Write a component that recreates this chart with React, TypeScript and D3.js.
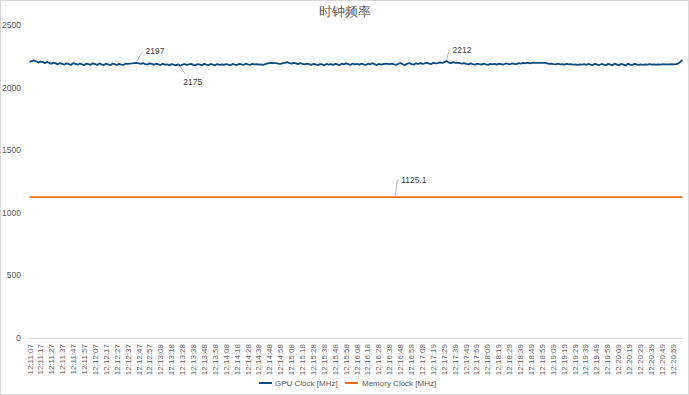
import React from "react";
import * as d3 from "d3";

const title = "时钟频率";
const yTicks = [0, 500, 1000, 1500, 2000, 2500];
const timeLabels = [
  "12:11:07","12:11:17","12:11:27","12:11:37","12:11:47","12:11:57",
  "12:12:07","12:12:17","12:12:27","12:12:37","12:12:47","12:12:57",
  "12:13:08","12:13:18","12:13:28","12:13:38","12:13:48","12:13:58",
  "12:14:08","12:14:18","12:14:28","12:14:38","12:14:48","12:14:58",
  "12:15:08","12:15:18","12:15:28","12:15:38","12:15:48","12:15:58",
  "12:16:08","12:16:18","12:16:28","12:16:38","12:16:48","12:16:58",
  "12:17:08","12:17:19","12:17:29","12:17:39","12:17:49","12:17:59",
  "12:18:09","12:18:19","12:18:29","12:18:39","12:18:49","12:18:59",
  "12:19:09","12:19:19","12:19:29","12:19:39","12:19:49","12:19:59",
  "12:20:09","12:20:19","12:20:29","12:20:39","12:20:49","12:20:59",
];
const categoryCount = 600;
const labelEvery = 10;

const gpuClock = [
  2205,2212,2218,2210,2200,2208,2203,2195,2205,2198,2190,2200,2194,2186,2196,2190,2184,2194,2188,2182,2195,2190,2183,2193,2186,2180,2192,2188,2182,2194,
  2188,2181,2193,2186,2180,2191,2185,2179,2192,2187,2180,2190,2184,2181,2192,2190,2192,2193,2195,2197,2194,2190,2196,2188,2184,2194,2189,2182,2192,2186,
  2180,2190,2184,2186,2180,2188,2183,2178,2186,2175,2184,2188,2181,2186,2190,2182,2178,2188,2183,2179,2190,2184,2180,2189,2183,2178,2188,2182,2186,2181,
  2188,2183,2179,2189,2184,2180,2190,2186,2182,2191,2185,2181,2190,2186,2188,2184,2186,2182,2188,2194,2196,2197,2195,2196,2192,2190,2195,2198,2204,2196,
  2192,2198,2193,2188,2195,2190,2186,2192,2188,2182,2190,2186,2180,2188,2185,2178,2189,2184,2188,2181,2190,2185,2180,2191,2186,2193,2187,2182,2192,2186,
  2190,2183,2192,2186,2181,2191,2185,2195,2187,2180,2190,2184,2188,2192,2190,2188,2192,2186,2182,2191,2196,2186,2180,2192,2196,2188,2184,2194,2190,2196,
  2190,2194,2200,2192,2188,2198,2194,2196,2201,2198,2204,2212,2200,2196,2203,2198,2200,2196,2192,2195,2190,2186,2193,2188,2184,2192,2187,2183,2191,2186,
  2182,2190,2185,2190,2184,2192,2188,2184,2193,2189,2185,2194,2190,2187,2195,2191,2197,2193,2199,2194,2198,2200,2198,2197,2198,2197,2198,2194,2190,2192,
  2188,2185,2191,2186,2188,2183,2190,2186,2188,2184,2186,2182,2186,2184,2188,2182,2189,2184,2180,2190,2184,2180,2189,2183,2179,2190,2184,2178,2192,2184,
  2178,2190,2183,2177,2191,2184,2180,2190,2186,2181,2185,2182,2186,2183,2187,2184,2186,2183,2186,2184,2187,2185,2186,2185,2187,2186,2188,2192,2205,2220,
];
const memoryClock = 1125.1;
const gpuAnnotations = [
  { index: 49, dx: 7, dy: -12, label: "2197" },
  { index: 69, dx: 5, dy: 10, label: "2175" },
  { index: 191, dx: 4, dy: -11, label: "2212" },
];
const memAnnotationFrac = 0.56;

const W = 689;
const H = 395;
const M = { left: 29, right: 683, top: 25, bottom: 338 };
const GPU_COLOR = "#0f4c7d";
const MEM_COLOR = "#f26a1b";
const TEXT = "#595959";
const FONT = "'Liberation Sans', Arial, sans-serif";

export default function App() {
  const y = d3.scaleLinear().domain([0, 2500]).range([M.bottom, M.top]);
  const cat = d3.scaleBand<number>().domain(d3.range(categoryCount)).range([M.left, M.right]);
  const cw = cat.bandwidth();
  const xg = d3
    .scaleLinear()
    .domain([0, gpuClock.length - 1])
    .range([M.left + cw / 2, M.right - cw / 2]);
  const line = d3
    .line<number>()
    .x((_, i) => xg(i))
    .y((d) => y(d))
    .curve(d3.curveLinear);

  const memX0 = M.left + cw / 2;
  const memX1 = M.right - cw / 2;
  const memAx = memX0 + (memX1 - memX0) * memAnnotationFrac;
  const memY = y(memoryClock);

  return (
    <svg
      width={W}
      height={H}
      style={{ position: "absolute", left: 0, top: 0, background: "#fff" }}
      fontFamily={FONT}
    >
      <rect x={0.5} y={0.5} width={W - 1} height={H - 1} fill="#fff" stroke="#d9d9d9" />
      <text x={W / 2} y={16} textAnchor="middle" fontSize={12.5} fill={TEXT}>
        {title}
      </text>
      {yTicks.map((t) => (
        <text key={t} x={21} y={y(t) + 3} textAnchor="end" fontSize={8.5} fill={TEXT}>
          {t}
        </text>
      ))}
      <line x1={M.left} x2={M.right} y1={M.bottom + 0.5} y2={M.bottom + 0.5} stroke="#d9d9d9" />
      {timeLabels.map((lab, k) => {
        const cx = (cat(k * labelEvery) as number) + cw / 2;
        return (
          <text
            key={lab}
            transform={`translate(${cx + 3},${M.bottom + 6}) rotate(-90)`}
            textAnchor="end"
            fontSize={8}
            fill="#666"
          >
            {lab}
          </text>
        );
      })}
      <line x1={memX0} x2={memX1} y1={memY} y2={memY} stroke={MEM_COLOR} strokeWidth={1.8} />
      <path d={line(gpuClock) || ""} fill="none" stroke={GPU_COLOR} strokeWidth={1.8} strokeLinejoin="round" />
      {gpuAnnotations.map((a) => {
        const px = xg(a.index);
        const py = y(gpuClock[a.index]);
        const lx = px + a.dx;
        const ly = py + a.dy;
        return (
          <g key={a.label}>
            <polyline
              points={
                a.dy < 0
                  ? `${px},${py - 1} ${lx - 2},${ly + 2} ${lx},${ly}`
                  : `${px},${py + 1} ${lx},${ly - 2}`
              }
              fill="none"
              stroke="#a6a6a6"
              strokeWidth={0.8}
            />
            <text x={a.dy < 0 ? lx + 2 : lx - 2} y={a.dy < 0 ? ly + 3 : ly + 9} fontSize={8.5} fill="#404040">
              {a.label}
            </text>
          </g>
        );
      })}
      <polyline
        points={`${memAx},${memY - 1} ${memAx + 2},${memY - 16} ${memAx + 4},${memY - 17}`}
        fill="none"
        stroke="#a6a6a6"
        strokeWidth={0.8}
      />
      <text x={memAx + 6} y={memY - 14} fontSize={8.5} fill="#404040">
        {memoryClock.toFixed(1)}
      </text>
      <g transform="translate(259,383)">
        <line x1={0} x2={13} y1={0} y2={0} stroke={GPU_COLOR} strokeWidth={2} />
        <text x={16} y={3} fontSize={8} fill={TEXT}>GPU Clock [MHz]</text>
        <line x1={86} x2={99} y1={0} y2={0} stroke={MEM_COLOR} strokeWidth={2} />
        <text x={103} y={3} fontSize={8} fill={TEXT}>Memory Clock [MHz]</text>
      </g>
    </svg>
  );
}
